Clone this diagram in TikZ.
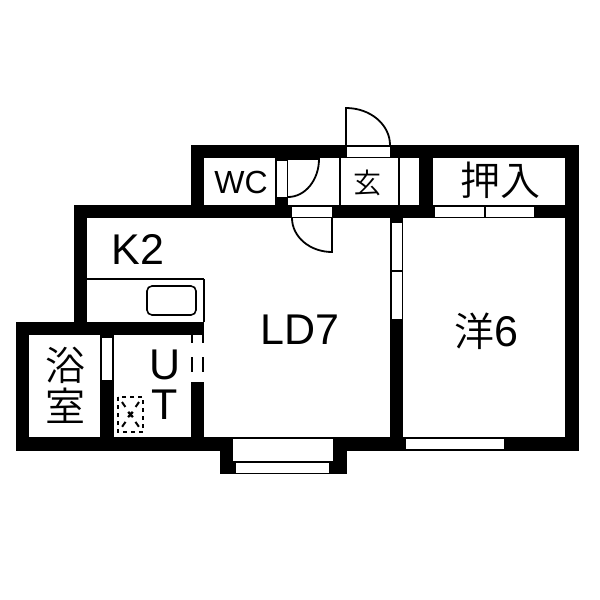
\documentclass[tikz,border=0pt]{standalone}
\usepackage{fontspec}
\setmainfont{Liberation Sans}
\newfontfamily\cjk{Noto Sans CJK JP DemiLight}
\tikzset{
  wall/.style={fill=black,draw=none},
  opening/.style={fill=white,draw=none},
  thin line/.style={draw=black,line width=1.6pt},
  leaf/.style={draw=black,line width=1.8pt},
  label/.style={inner sep=0pt,text=black,align=center},
}
\begin{document}
\begin{tikzpicture}[x=1pt,y=-1pt]
\useasboundingbox (0,0) rectangle (600,600);
\fill[white] (0,0) rectangle (600,600);
% walls
\fill[wall] (191,145) rectangle (579,158);
\fill[wall] (191,145) rectangle (204,218);
\fill[wall] (565,145) rectangle (579,451);
\fill[wall] (419,145) rectangle (433,218);
\fill[wall] (74,205) rectangle (579,218);
\fill[wall] (74,205) rectangle (87,335);
\fill[wall] (16,322) rectangle (204,335);
\fill[wall] (16,322) rectangle (29,451);
\fill[wall] (16,437) rectangle (579,451);
\fill[wall] (100,322) rectangle (114,451);
\fill[wall] (191,322) rectangle (204,451);
\fill[wall] (390,205) rectangle (403,451);
\fill[wall] (220,437) rectangle (347,474);
\fill[wall] (275,158) rectangle (288,205);
% openings
\fill[opening] (346.5,146.5) rectangle (390,157);
\fill[opening] (292,206.5) rectangle (332,217);
\fill[opening] (276.5,161) rectangle (287,197);
\fill[opening] (435,207) rectangle (534,217);
\fill[opening] (392,223) rectangle (402,319);
\fill[opening] (102,338) rectangle (112,380);
\fill[opening] (233,439) rectangle (333,461);
\fill[opening] (236,463) rectangle (329,473);
\fill[opening] (406,439) rectangle (504,449);
\fill[opening] (190,335) rectangle (205,382);
% thin lines
\draw[thin line] (485,207) -- (485,217);
\draw[thin line] (392,271) -- (402,271);
\draw[thin line] (340,158) -- (340,205);
\draw[thin line] (399,158) -- (399,205);
\draw[thin line] (204,279) -- (87,279);
\draw[thin line] (204,279) -- (204,322);
\draw[thin line, rounded corners=5pt] (147,286) rectangle (196,315);
% doors
\draw[leaf] (346,145) -- (346,108) arc[start angle=-90,end angle=0,x radius=44,y radius=37];
\draw[leaf] (332,218) -- (332,252) arc[start angle=90,end angle=180,x radius=40,y radius=34];
\draw[leaf] (288,159) -- (319,159) arc[start angle=0,end angle=90,x radius=31,y radius=38];
% UT door dashes
\draw[line width=2pt,dash pattern=on 8pt off 14pt on 15pt off 20pt] (192,335) -- (192,382);
\draw[line width=2pt,dash pattern=on 8pt off 14pt on 15pt off 20pt] (203,335) -- (203,382);
% washer pan
\draw[line width=2.4pt,dash pattern=on 4pt off 4pt] (118,397) rectangle (143,432);
\draw[line width=2pt,dash pattern=on 6pt off 6pt] (122,402) -- (139,427);
\draw[line width=2pt,dash pattern=on 6pt off 6pt] (139,402) -- (122,427);
\draw[line width=2pt] (128,412) -- (133,417) (133,412) -- (128,417);
% text
\node[label,font=\fontsize{43}{43}\selectfont] (k2) at (138,249) {K2};
\node[label,font=\fontsize{43}{43}\selectfont] (ld) at (300,330) {LD7};
\node[label,font=\fontsize{43}{43}\selectfont] (w6) at (486,331) {{\fontsize{40}{40}\selectfont\cjk 洋}6};
\node[label,font=\fontsize{40}{40}\selectfont\cjk] (os) at (500,180) {押入};
\node[label,font=\fontsize{32}{32}\selectfont] (wc) at (241,182) {WC};
\node[label,font=\fontsize{28}{28}\selectfont\cjk] (ge) at (367,183) {玄};
\node[label,font=\fontsize{40}{40}\selectfont\cjk] (yoku) at (65,365) {浴};
\node[label,font=\fontsize{40}{40}\selectfont\cjk] (shitsu) at (65,406) {室};
\node[label,font=\fontsize{43}{43}\selectfont] (u) at (165,365) {U};
\node[label,font=\fontsize{43}{43}\selectfont] (t) at (165,405) {T};
\end{tikzpicture}
\end{document}
